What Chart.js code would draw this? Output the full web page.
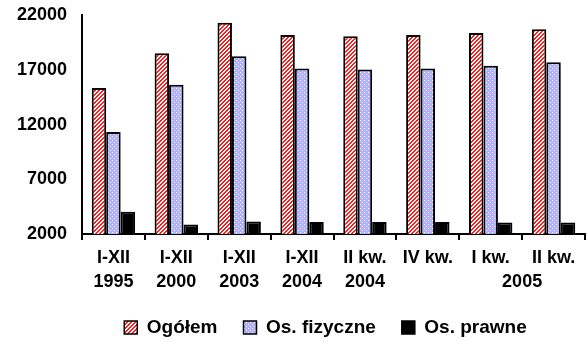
<!DOCTYPE html>
<html>
<head>
<meta charset="utf-8">
<script src="https://cdn.jsdelivr.net/npm/chart.js@4"></script>
<style>
  html, body { margin: 0; padding: 0; background: #fff; }
  #wrap { width: 588px; height: 342px; }
</style>
</head>
<body>
<div id="wrap"><canvas id="chart" width="588" height="342"></canvas></div>
<script>
// dane z wykresu
const kategorie = [
    ['I-XII', '1995'], ['I-XII', '2000'], ['I-XII', '2003'], ['I-XII', '2004'],
    ['II kw.', '2004'], ['IV kw.', ''], ['I kw.', ''], ['II kw.', '']
];
const rokWspolny = '2005'; // podpis wspólny dla I i II kw. 2005
const ogolem = [15340, 18510, 21300, 20170, 20050, 20170, 20350, 20690];
const osFizyczne = [11330, 15640, 18240, 17110, 17020, 17110, 17360, 17690];
const osPrawne = [4050, 2870, 3150, 3100, 3100, 3100, 3050, 3050];
const osY = { min: 2000, max: 22000, krok: 5000 };

// wzory wypełnienia (kreskowanie jak w Excelu)
function wzor(rozmiar, rysuj) {
    const c = document.createElement('canvas');
    c.width = rozmiar; c.height = rozmiar;
    const g = c.getContext('2d');
    rysuj(g);
    return document.getElementById('chart').getContext('2d').createPattern(c, 'repeat');
}
const czerwony = wzor(4, g => {
    g.fillStyle = '#ffffff'; g.fillRect(0, 0, 4, 4);
    g.fillStyle = '#ff1a1a';
    for (let x = 0; x < 4; x++)
        for (let y = 0; y < 4; y++)
            if ((x + y) % 4 < 2) g.fillRect(x, y, 1, 1);
});
const niebieski = wzor(4, g => {
    g.fillStyle = '#b0b0ff'; g.fillRect(0, 0, 4, 4);
    g.fillStyle = '#ffffff';
    g.fillRect(0, 0, 1, 1);
    g.fillRect(2, 2, 1, 1);
});

const rodzina = 'Arial, "Liberation Sans", sans-serif';
const czcionka = { family: rodzina, size: 18, weight: 'bold' };

// dopisuje "2005" pod dwoma ostatnimi kwartałami
const podpisRoku = {
    id: 'podpisRoku',
    afterLayout(chart) {
        // legenda przesunięta w prawo, jak w oryginale
        chart.legend.left += 33;
        chart.legend.right += 33;
    },
    afterDraw(chart) {
        const x = chart.scales.x;
        const px = (x.getPixelForValue(6) + x.getPixelForValue(7)) / 2;
        const ctx = chart.ctx;
        ctx.save();
        ctx.font = 'bold 18px ' + rodzina;
        ctx.fillStyle = '#000';
        ctx.textAlign = 'center';
        ctx.textBaseline = 'middle';
        ctx.fillText(rokWspolny, px, chart.chartArea.bottom + 48);
        ctx.restore();
    }
};

new Chart(document.getElementById('chart'), {
    type: 'bar',
    data: {
        labels: kategorie,
        datasets: [
            { label: 'Ogółem', data: ogolem, backgroundColor: czerwony },
            { label: 'Os. fizyczne', data: osFizyczne, backgroundColor: niebieski },
            { label: 'Os. prawne', data: osPrawne, backgroundColor: '#000000' }
        ]
    },
    options: {
        responsive: false,
        animation: false,
        datasets: {
            bar: {
                borderColor: '#000', borderWidth: 2, borderSkipped: false,
                categoryPercentage: 0.69, barPercentage: 1
            }
        },
        layout: { padding: { top: 0, right: 3, left: 0, bottom: -5 } },
        plugins: {
            tooltip: { enabled: false },
            legend: {
                position: 'bottom',
                labels: {
                    color: '#000', font: { ...czcionka, size: 19 }, boxWidth: 13, boxHeight: 13, padding: 26,
                    generateLabels(chart) {
                        const items = Chart.defaults.plugins.legend.labels.generateLabels(chart);
                        items.forEach(i => { i.lineWidth = 1.5; });
                        return items;
                    }
                }
            }
        },
        scales: {
            x: {
                afterFit(s) { s.height -= 8; },
                grid: { display: true, drawOnChartArea: false, drawTicks: true, tickLength: 6, color: '#000', lineWidth: 2 },
                border: { color: '#000', width: 2 },
                ticks: { color: '#000', font: { ...czcionka, lineHeight: 1.33 }, maxRotation: 0, padding: 6 }
            },
            y: {
                min: osY.min, max: osY.max,
                afterFit(s) { s.width = 82; s.paddingTop = 15; s.paddingBottom = 10; },
                grid: { display: false, drawTicks: false },
                border: { color: '#000', width: 2 },
                ticks: { stepSize: osY.krok, color: '#000', font: czcionka, padding: 15, callback: v => String(v) }
            }
        }
    },
    plugins: [podpisRoku]
});
</script>
</body>
</html>
